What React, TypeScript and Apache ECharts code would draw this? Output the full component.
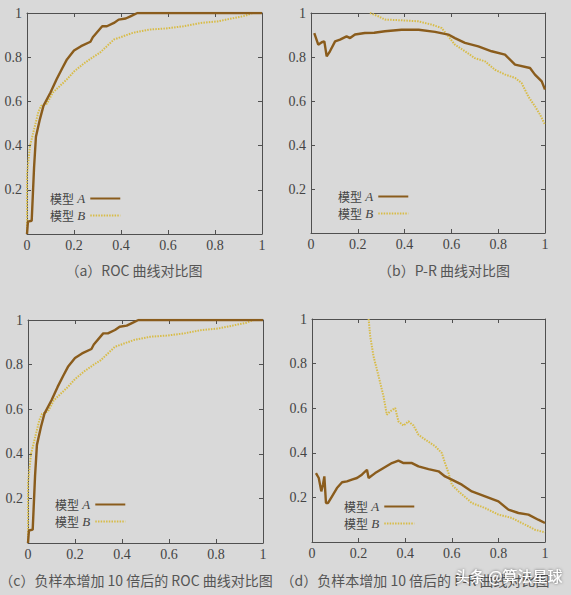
import React, { useEffect, useRef } from 'react';
import * as echarts from 'echarts';

// ROC curves (panels a and c)
const rocA: number[][] = [
  [0, 0], [0.004, 0.056], [0.02, 0.06], [0.03, 0.3], [0.038, 0.44], [0.055, 0.52], [0.07, 0.58],
  [0.1, 0.64], [0.126, 0.7], [0.15, 0.75], [0.17, 0.79], [0.2, 0.83], [0.23, 0.85], [0.27, 0.87],
  [0.28, 0.89], [0.32, 0.94], [0.34, 0.94], [0.37, 0.955], [0.39, 0.97], [0.42, 0.975],
  [0.44, 0.985], [0.47, 1.0], [1.0, 1.0],
];
const rocB: number[][] = [
  [0, 0], [0, 0.27], [0.013, 0.4], [0.027, 0.46], [0.048, 0.55], [0.06, 0.58], [0.085, 0.59], [0.11, 0.64],
  [0.14, 0.67], [0.17, 0.7], [0.2, 0.735], [0.24, 0.77], [0.28, 0.8], [0.31, 0.82], [0.34, 0.85],
  [0.37, 0.88], [0.41, 0.895], [0.45, 0.91], [0.52, 0.925], [0.59, 0.93], [0.665, 0.94],
  [0.74, 0.955], [0.81, 0.962], [0.88, 0.977], [0.93, 0.988], [0.96, 1.0], [1.0, 1.0],
];
// P-R curves (panel b)
const prA: number[][] = [
  [0.014, 0.909], [0.031, 0.856], [0.046, 0.867], [0.057, 0.871], [0.067, 0.803], [0.081, 0.826],
  [0.103, 0.871], [0.124, 0.879], [0.152, 0.894], [0.167, 0.886], [0.188, 0.902], [0.23, 0.909],
  [0.27, 0.91], [0.316, 0.917], [0.387, 0.924], [0.46, 0.924], [0.53, 0.914], [0.587, 0.902],
  [0.615, 0.886], [0.658, 0.864], [0.715, 0.848], [0.772, 0.826], [0.829, 0.811], [0.872, 0.765],
  [0.936, 0.75], [0.957, 0.72], [0.986, 0.689], [1.0, 0.652],
];
const prB: number[][] = [
  [0.252, 1.0], [0.288, 0.985], [0.316, 0.97], [0.387, 0.967], [0.459, 0.962], [0.516, 0.947],
  [0.558, 0.932], [0.587, 0.894], [0.615, 0.856], [0.658, 0.826], [0.7, 0.795], [0.744, 0.78],
  [0.786, 0.742], [0.83, 0.72], [0.872, 0.705], [0.9, 0.682], [0.929, 0.62], [0.957, 0.576],
  [0.979, 0.538], [1.0, 0.492],
];
// P-R curves after 10x negatives (panel d)
const prA10: number[][] = [
  [0.017, 0.309], [0.029, 0.287], [0.04, 0.227], [0.047, 0.257], [0.053, 0.294], [0.06, 0.175],
  [0.069, 0.175], [0.086, 0.205], [0.107, 0.242], [0.129, 0.268], [0.15, 0.272], [0.171, 0.28],
  [0.193, 0.287], [0.214, 0.302], [0.236, 0.324], [0.243, 0.287], [0.271, 0.309], [0.307, 0.332],
  [0.343, 0.354], [0.371, 0.365], [0.393, 0.354], [0.429, 0.354], [0.457, 0.339], [0.5, 0.327],
  [0.543, 0.317], [0.571, 0.294], [0.6, 0.28], [0.643, 0.257], [0.686, 0.227], [0.743, 0.205],
  [0.8, 0.182], [0.843, 0.145], [0.886, 0.13], [0.929, 0.123], [0.971, 0.1], [1.0, 0.085],
];
const prB10: number[][] = [
  [0.243, 1.0], [0.25, 0.922], [0.264, 0.833], [0.286, 0.743], [0.307, 0.653], [0.321, 0.571],
  [0.336, 0.586], [0.357, 0.601], [0.371, 0.541], [0.393, 0.522], [0.414, 0.541], [0.436, 0.522],
  [0.457, 0.481], [0.486, 0.459], [0.529, 0.429], [0.557, 0.399], [0.571, 0.354], [0.586, 0.309],
  [0.6, 0.257], [0.629, 0.227], [0.686, 0.175], [0.743, 0.152], [0.8, 0.123], [0.857, 0.108],
  [0.914, 0.078], [0.957, 0.055], [1.0, 0.043],
];

const seriesNames = ['模型 A', '模型 B'];
const panelTitles = [
  '（a）ROC 曲线对比图',
  '（b）P-R 曲线对比图',
  '（c）负样本增加 10 倍后的 ROC 曲线对比图',
  '（d）负样本增加 10 倍后的 P-R 曲线对比图',
];
const panelData = [
  [rocA, rocB],
  [prA, prB],
  [rocA, rocB],
  [prA10, prB10],
];
const watermark = '头条 @算法星球';

const layouts = [
  { grid: { left: 27, top: 13, width: 235, height: 221 }, tx: 134, ty: 270, lx: 50, ly: 192 },
  { grid: { left: 311, top: 13, width: 234, height: 220 }, tx: 444, ty: 270, lx: 338, ly: 190 },
  { grid: { left: 28, top: 320, width: 235, height: 223 }, tx: 136, ty: 580, lx: 55, ly: 498 },
  { grid: { left: 312, top: 319, width: 233, height: 223 }, tx: 415, ty: 580, lx: 344, ly: 500 },
];

const AXIS = '#505050';
const LABEL = '#444';
const COLOR_A = '#8a5c1c';
const COLOR_B = '#d8bc48';
const SERIF = 'Liberation Serif';
const CJK = 'Noto Sans CJK SC';

const fmt = (v: number) => String(parseFloat(v.toFixed(1)));

export default function App() {
  const ref = useRef<HTMLDivElement>(null);
  useEffect(() => {
    if (!ref.current) return;
    const chart = echarts.init(ref.current, undefined, { renderer: 'svg' });
    const grids: any[] = [];
    const xAxes: any[] = [];
    const yAxes: any[] = [];
    const series: any[] = [];
    const legends: any[] = [];
    const graphics: any[] = [];
    layouts.forEach((L, i) => {
      grids.push({ ...L.grid, containLabel: false });
      const common = {
        type: 'value', gridIndex: i, min: 0, max: 1, interval: 0.2,
        axisLine: { show: true, onZero: false, lineStyle: { color: AXIS, width: 1 } },
        axisTick: { show: true, inside: true, length: 4, lineStyle: { color: AXIS, width: 1 } },
        splitLine: { show: false },
      };
      xAxes.push({
        ...common, position: 'bottom',
        axisLabel: {
          show: true, margin: 4, showMinLabel: true, showMaxLabel: true,
          formatter: (v: number) => fmt(v),
          fontFamily: SERIF, fontSize: 14, color: LABEL,
        },
      });
      xAxes.push({ ...common, position: 'top', axisLabel: { show: false } });
      yAxes.push({
        ...common, position: 'left',
        axisLabel: {
          show: true, margin: 5, showMinLabel: true, showMaxLabel: true,
          formatter: (v: number) => (v === 0 ? '' : fmt(v)),
          fontFamily: SERIF, fontSize: 14, color: LABEL,
        },
      });
      yAxes.push({ ...common, position: 'right', axisLabel: { show: false } });
      const [dA, dB] = panelData[i];
      series.push({
        name: seriesNames[0], type: 'line', xAxisIndex: i * 2, yAxisIndex: i * 2, data: dA,
        symbol: 'none', showSymbol: false, clip: true,
        lineStyle: { color: COLOR_A, width: 2.4, type: 'solid' }, itemStyle: { color: COLOR_A },
        z: 3,
      });
      series.push({
        name: seriesNames[1], type: 'line', xAxisIndex: i * 2, yAxisIndex: i * 2, data: dB,
        symbol: 'none', showSymbol: false, clip: true,
        lineStyle: { color: COLOR_B, width: 2, type: [1.5, 1.2] }, itemStyle: { color: COLOR_B },
        z: 2,
      });
      legends.push({
        show: true, orient: 'vertical', align: 'right', left: L.lx, top: L.ly,
        padding: 0, itemGap: 4, itemWidth: 30, itemHeight: 10,
        data: seriesNames, selectedMode: false,
        itemStyle: { opacity: 0 },
        formatter: (name: string) => {
          const parts = name.split(' ');
          return `{c|${parts[0]}} {i|${parts[1]}}`;
        },
        textStyle: {
          color: LABEL, fontSize: 12, lineHeight: 12,
          rich: {
            c: { fontFamily: CJK, fontSize: 12, color: LABEL },
            i: { fontFamily: SERIF, fontStyle: 'italic', fontSize: 13, color: LABEL },
          },
        },
      });
      graphics.push({
        type: 'text', x: L.tx, y: L.ty, z: 10,
        style: {
          text: panelTitles[i], align: 'center', verticalAlign: 'middle',
          fontFamily: CJK, fontSize: 14, fill: '#555',
        },
      });
    });
    graphics.push({
      type: 'text', x: 455, y: 575, z: 100,
      style: {
        text: watermark, align: 'left', verticalAlign: 'middle',
        fontFamily: CJK, fontSize: 15, fill: '#ffffff',
        textShadowColor: 'rgba(0,0,0,0.6)', textShadowBlur: 3,
      },
    });
    chart.setOption({
      animation: false,
      backgroundColor: '#d9d9d9',
      grid: grids,
      xAxis: xAxes,
      yAxis: yAxes,
      series,
      legend: legends,
      graphic: graphics,
    });
    return () => chart.dispose();
  }, []);
  return (
    <div
      ref={ref}
      style={{ position: 'absolute', left: 0, top: 0, width: 571, height: 595, background: '#d9d9d9' }}
    />
  );
}
